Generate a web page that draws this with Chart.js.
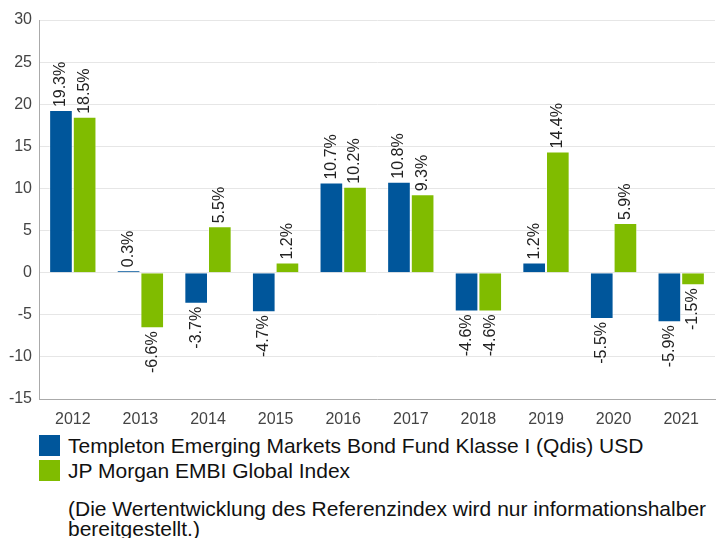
<!DOCTYPE html>
<html>
<head>
<meta charset="utf-8">
<script src="https://cdn.jsdelivr.net/npm/chart.js@4/dist/chart.umd.min.js"></script>
<style>
  body { margin: 0; width: 716px; height: 538px; overflow: hidden; background: #fff; font-family: "Liberation Sans", Arial, sans-serif; }
  #wrap { position: relative; width: 716px; height: 425px; }
  #legend { margin: 8px 0 0 39px; font-size: 21px; color: #111; }
  .item { display: flex; align-items: center; height: 25px; }
  .box { width: 21px; height: 21px; margin-right: 8px; flex: none; }
  #note { margin: 16px 0 0 68px; font-size: 21px; line-height: 20px; color: #111; white-space: nowrap; }
</style>
</head>
<body>
<div id="wrap"><canvas id="perfChart" width="716" height="425"></canvas></div>
<div id="legend"></div>
<div id="note">(Die Wertentwicklung des Referenzindex wird nur informationshalber<br>bereitgestellt.)</div>
<script>
const years = ["2012", "2013", "2014", "2015", "2016", "2017", "2018", "2019", "2020", "2021"];
const fundValues = [19.3, 0.3, -3.7, -4.7, 10.7, 10.8, -4.6, 1.2, -5.5, -5.9];
const indexValues = [18.5, -6.6, 5.5, 1.2, 10.2, 9.3, -4.6, 14.4, 5.9, -1.5];
const fundLabel = "Templeton Emerging Markets Bond Fund Klasse I (Qdis) USD";
const indexLabel = "JP Morgan EMBI Global Index";
const blue = "#00569b";
const green = "#80bc00";
const fontFamily = "'Liberation Sans', Arial, sans-serif";

// rotated value labels at the end of each bar
const barLabels = {
  id: "barLabels",
  afterDatasetsDraw(chart) {
    const ctx = chart.ctx;
    ctx.save();
    ctx.font = "16px " + fontFamily;
    ctx.fillStyle = "#222";
    ctx.textBaseline = "middle";
    chart.data.datasets.forEach((ds, i) => {
      chart.getDatasetMeta(i).data.forEach((bar, j) => {
        const v = ds.data[j];
        const txt = v.toFixed(1) + "%";
        ctx.save();
        ctx.translate(bar.x, bar.y);
        ctx.rotate(-Math.PI / 2);
        if (v >= 0) {
          ctx.textAlign = "left";
          ctx.fillText(txt, 3, 0);
        } else {
          ctx.textAlign = "right";
          ctx.fillText(txt, -3, 0);
        }
        ctx.restore();
      });
    });
    ctx.restore();
  }
};

new Chart(document.getElementById("perfChart"), {
  type: "bar",
  data: {
    labels: years,
    datasets: [
      { label: fundLabel, data: fundValues, backgroundColor: blue, borderColor: "rgba(255,255,255,0.5)", borderWidth: 1 },
      { label: indexLabel, data: indexValues, backgroundColor: green, borderColor: "rgba(255,255,255,0.5)", borderWidth: 1 },
    ],
  },
  options: {
    responsive: false,
    animation: false,
    layout: { padding: { top: 20, right: 1, left: 0, bottom: 0 } },
    datasets: { bar: { categoryPercentage: 0.7, barPercentage: 1.0 } },
    plugins: { legend: { display: false }, tooltip: { enabled: false } },
    scales: {
      x: {
        grid: { display: false },
        border: { color: "#aaa" },
        ticks: { color: "#444", font: { size: 16, family: fontFamily }, padding: 3 },
        afterFit: (s) => { s.height = 26; },
      },
      y: {
        min: -15,
        max: 30,
        ticks: { stepSize: 5, color: "#444", font: { size: 16, family: fontFamily }, padding: 7 },
        grid: { color: "#e6e6e6", drawTicks: false },
        border: { color: "#aaa" },
        afterFit: (s) => { s.width = 39; },
      },
    },
  },
  plugins: [barLabels],
});

// html legend
const legend = document.getElementById("legend");
[[fundLabel, blue], [indexLabel, green]].forEach(([name, color]) => {
  const row = document.createElement("div");
  row.className = "item";
  row.innerHTML = '<span class="box" style="background:' + color + '"></span><span>' + name + "</span>";
  legend.appendChild(row);
});
</script>
</body>
</html>
